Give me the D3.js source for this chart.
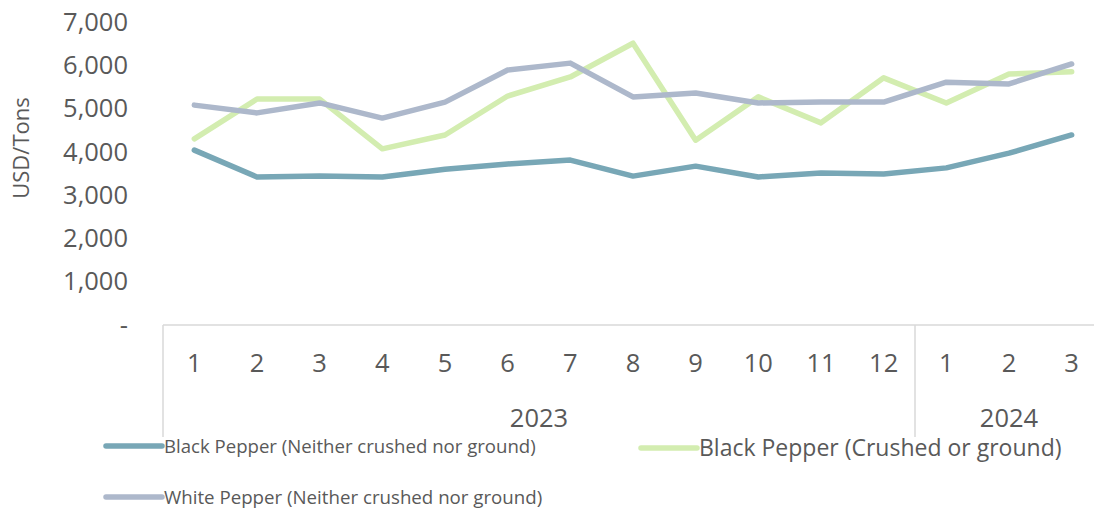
<!DOCTYPE html>
<html>
<head>
<meta charset="utf-8">
<script src="https://cdn.jsdelivr.net/npm/d3@7"></script>
<style>
  html, body { margin: 0; padding: 0; background: #fff; }
  svg { display: block; }
  text { font-family: "Open Sans", "Noto Sans", sans-serif; fill: #595959; }
</style>
</head>
<body>
<svg id="chart" width="1094" height="509"></svg>
<script>
const monthLabels = ["1","2","3","4","5","6","7","8","9","10","11","12","1","2","3"];
const yearGroups = [
  { label: "2023", start: 0, end: 11 },
  { label: "2024", start: 12, end: 14 }
];
const blackNeither = [4040, 3420, 3440, 3420, 3600, 3720, 3810, 3440, 3670, 3420, 3510, 3490, 3630, 3970, 4390];
const blackCrushed = [4300, 5220, 5220, 4070, 4390, 5290, 5730, 6510, 4270, 5270, 4670, 5710, 5130, 5800, 5850];
const whiteNeither = [5080, 4900, 5130, 4780, 5150, 5890, 6050, 5270, 5360, 5130, 5150, 5150, 5610, 5570, 6030];
const yTicks = [0, 1000, 2000, 3000, 4000, 5000, 6000, 7000];

const series = [
  { name: "Black Pepper (Neither crushed nor ground)", values: blackNeither, color: "#78a7b6" },
  { name: "Black Pepper (Crushed or ground)", values: blackCrushed, color: "#d3edb0" },
  { name: "White Pepper (Neither crushed nor ground)", values: whiteNeither, color: "#adb8cb" }
];

const svg = d3.select("#chart");
const plotLeft = 163, plotRight = 1103, plotTop = 22, plotBottom = 325;

const x = d3.scaleBand().domain(d3.range(monthLabels.length)).range([plotLeft, plotRight]).padding(0);
const cx = i => x(i) + x.bandwidth() / 2;
const y = d3.scaleLinear().domain([0, 7000]).range([plotBottom, plotTop]);

// Y axis
const yAxis = svg.append("g")
  .attr("transform", `translate(${plotLeft},0)`)
  .call(d3.axisLeft(y).tickValues(yTicks).tickSize(0).tickPadding(35)
    .tickFormat(d => d === 0 ? "-" : d3.format(",")(d)));
yAxis.select(".domain").remove();
yAxis.selectAll("text").style("font-family", '"Open Sans", sans-serif').style("font-size", "25.5px").attr("fill", "#595959");

// Y title
svg.append("text")
  .attr("transform", `translate(29,148) rotate(-90)`)
  .attr("text-anchor", "middle")
  .style("font-size", "22px")
  .text("USD/Tons");

// Category axis lines
svg.append("line")
  .attr("x1", plotLeft).attr("x2", 1094)
  .attr("y1", plotBottom).attr("y2", plotBottom)
  .attr("stroke", "#d9d9d9").attr("stroke-width", 1.5);

yearGroups.forEach(g => {
  svg.append("line")
    .attr("x1", x(g.start)).attr("x2", x(g.start))
    .attr("y1", plotBottom).attr("y2", 437)
    .attr("stroke", "#d9d9d9").attr("stroke-width", 1.5);
});

// Month labels
const xAxis = svg.append("g")
  .attr("transform", `translate(0,${plotBottom})`)
  .call(d3.axisBottom(x).tickSize(0).tickFormat(i => monthLabels[i]));
xAxis.select(".domain").remove();
xAxis.selectAll("text")
  .attr("y", 47).attr("dy", 0)
  .attr("fill", "#595959")
  .style("font-family", '"Open Sans", sans-serif')
  .style("font-size", "25.5px");

// Year labels
svg.selectAll(".year").data(yearGroups).enter().append("text")
  .attr("class", "year")
  .attr("x", g => (cx(g.start) + cx(g.end)) / 2)
  .attr("y", 427)
  .attr("text-anchor", "middle")
  .style("font-size", "25.5px")
  .text(g => g.label);

// Lines
const line = d3.line().x((d, i) => cx(i)).y(d => y(d));
[0, 1, 2].forEach(k => {
  svg.append("path")
    .datum(series[k].values)
    .attr("d", line)
    .attr("fill", "none")
    .attr("stroke", series[k].color)
    .attr("stroke-width", 5.5)
    .attr("stroke-linejoin", "round")
    .attr("stroke-linecap", "round");
});

// Legend
const legendItems = [
  { s: series[0], x: 106, y: 446, size: 18.6 },
  { s: series[1], x: 641, y: 448, size: 23 },
  { s: series[2], x: 106, y: 497, size: 18.7 }
];
legendItems.forEach(it => {
  svg.append("line")
    .attr("x1", it.x).attr("x2", it.x + 56)
    .attr("y1", it.y).attr("y2", it.y)
    .attr("stroke", it.s.color).attr("stroke-width", 5.5)
    .attr("stroke-linecap", "round");
  svg.append("text")
    .attr("x", it.x + 58).attr("y", it.y)
    .attr("dy", "0.35em")
    .style("font-size", it.size + "px")
    .text(it.s.name);
});
</script>
</body>
</html>
